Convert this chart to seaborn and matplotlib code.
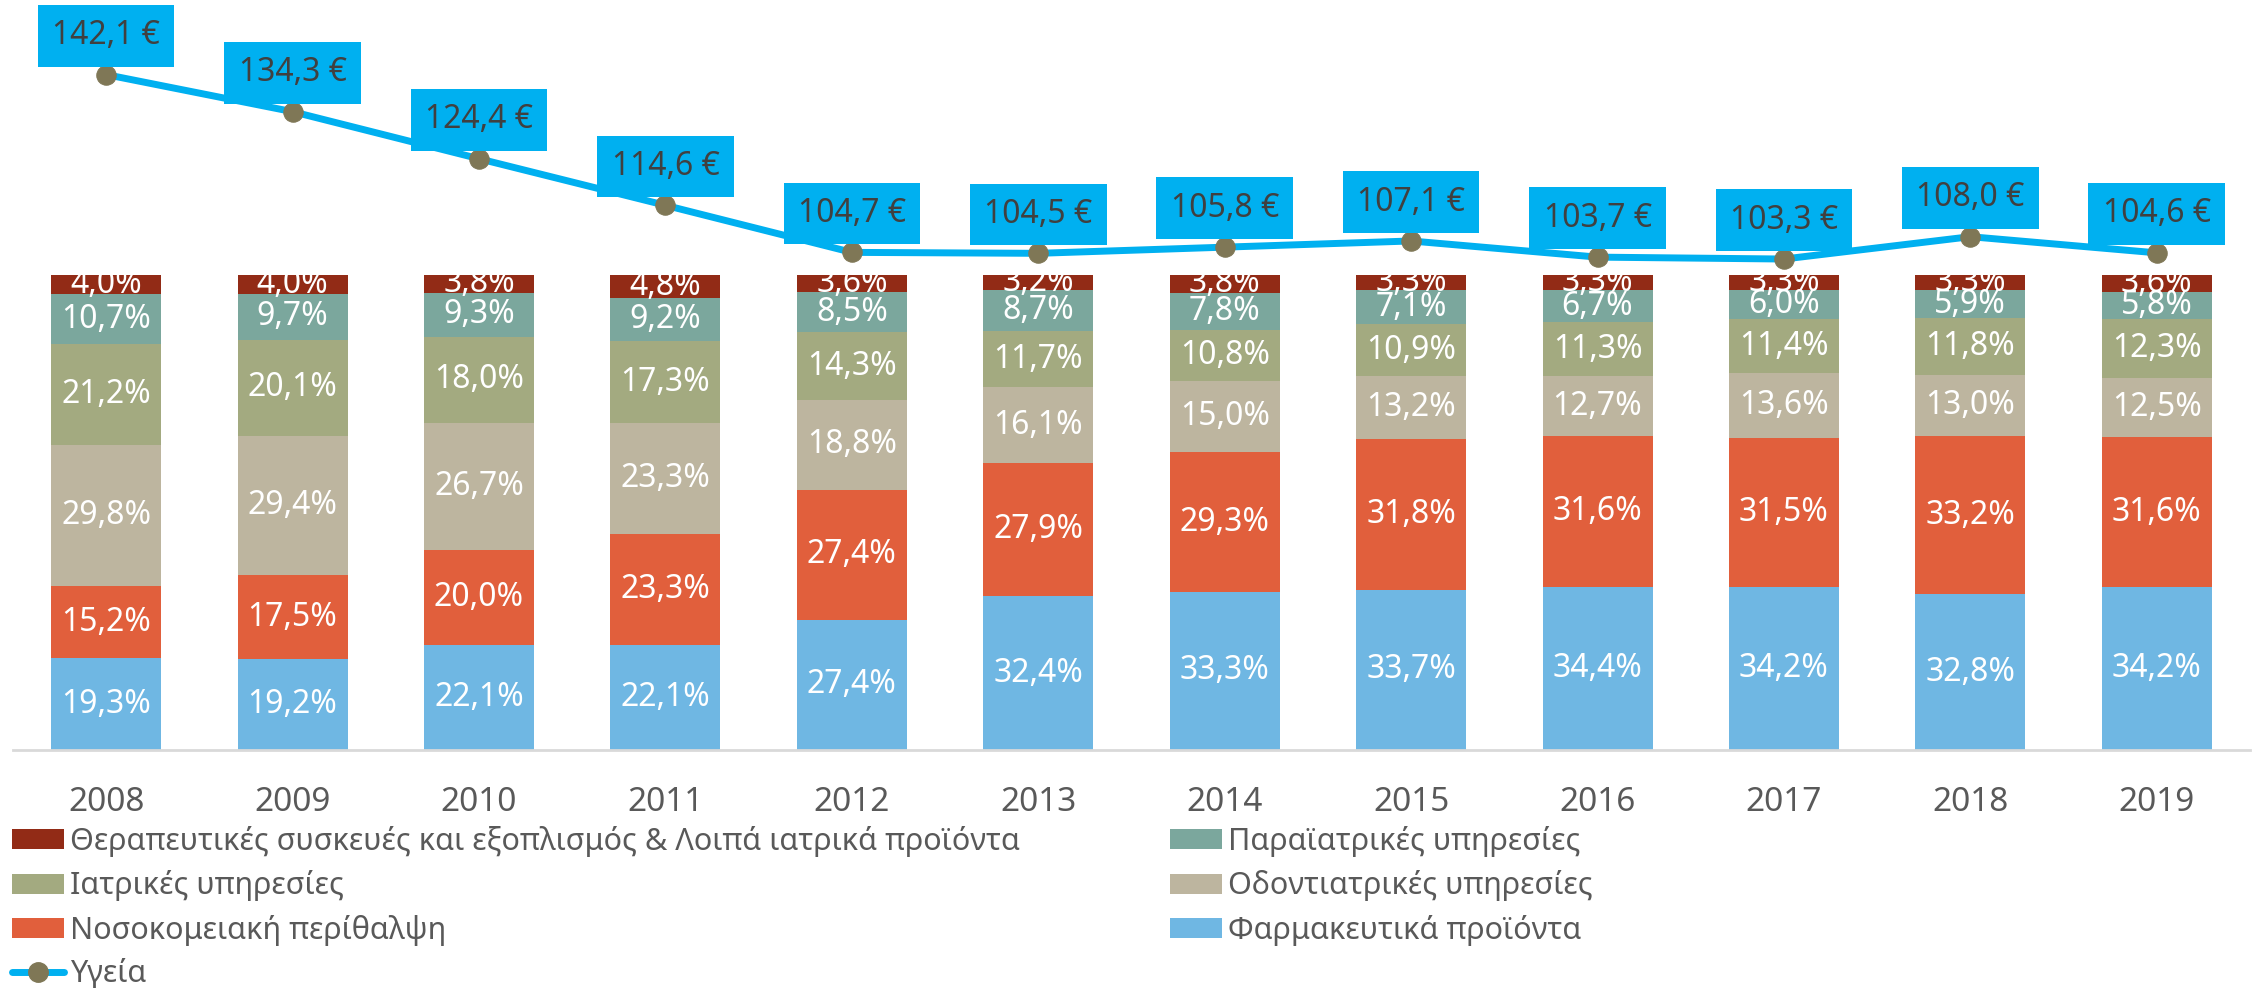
"""Health expenditure structure per year (100% stacked bars) with per-capita line."""

import matplotlib

matplotlib.use("Agg")

import matplotlib.pyplot as plt
import numpy as np
import pandas as pd
import seaborn as sns
from matplotlib.lines import Line2D
from matplotlib.patches import Patch

years = ["2008", "2009", "2010", "2011", "2012", "2013",
         "2014", "2015", "2016", "2017", "2018", "2019"]

# shares (%) bottom -> top
farmakeftika = [19.3, 19.2, 22.1, 22.1, 27.4, 32.4, 33.3, 33.7, 34.4, 34.2, 32.8, 34.2]
nosokomeiaki = [15.2, 17.5, 20.0, 23.3, 27.4, 27.9, 29.3, 31.8, 31.6, 31.5, 33.2, 31.6]
odontiatrikes = [29.8, 29.4, 26.7, 23.3, 18.8, 16.1, 15.0, 13.2, 12.7, 13.6, 13.0, 12.5]
iatrikes = [21.2, 20.1, 18.0, 17.3, 14.3, 11.7, 10.8, 10.9, 11.3, 11.4, 11.8, 12.3]
paraiatrikes = [10.7, 9.7, 9.3, 9.2, 8.5, 8.7, 7.8, 7.1, 6.7, 6.0, 5.9, 5.8]
therapeftikes = [4.0, 4.0, 3.8, 4.8, 3.6, 3.2, 3.8, 3.3, 3.3, 3.3, 3.3, 3.6]

ygeia = [142.1, 134.3, 124.4, 114.6, 104.7, 104.5, 105.8, 107.1, 103.7, 103.3, 108.0, 104.6]

series = [
    ("Φαρμακευτικά προϊόντα", farmakeftika, "#6FB7E3"),
    ("Νοσοκομειακή περίθαλψη", nosokomeiaki, "#E15F3C"),
    ("Οδοντιατρικές υπηρεσίες", odontiatrikes, "#BDB59F"),
    ("Ιατρικές υπηρεσίες", iatrikes, "#A3AA80"),
    ("Παραϊατρικές υπηρεσίες", paraiatrikes, "#7BA79D"),
    ("Θεραπευτικές συσκευές και εξοπλισμός & Λοιπά ιατρικά προϊόντα", therapeftikes, "#922B16"),
]

LINE_COLOR = "#00B0F0"
MARKER_COLOR = "#7F7756"
TEXT_GRAY = "#595959"

sns.set_theme(style="white")
plt.rcParams["font.family"] = ["Noto Sans", "DejaVu Sans"]

fig = plt.figure(figsize=(22.57, 9.89), dpi=100)
ax = fig.add_axes([13 / 2257, 1 - 750 / 989, (2250 - 13) / 2257, 750 / 989])

# 100% stacked: normalise each year to its total
values = np.array([s[1] for s in series])
shares = values / values.sum(axis=0) * 100
cum = np.cumsum(shares, axis=0)

# draw tallest cumulative first so lower layers sit on top
for i in range(len(series) - 1, -1, -1):
    df = pd.DataFrame({"year": years, "top": cum[i]})
    sns.barplot(data=df, x="year", y="top", color=series[i][2], saturation=1,
                width=0.59, ax=ax, edgecolor="none", linewidth=0)

for i, (name, vals, col) in enumerate(series):
    bottoms = cum[i] - shares[i]
    for j, v in enumerate(vals):
        ax.text(j, bottoms[j] + shares[i][j] / 2, f"{v:.1f}%".replace(".", ","),
                ha="center", va="center", color="white", fontsize=23)

# per-capita line
line_df = pd.DataFrame({"x": np.arange(len(years)), "y": ygeia})
sns.lineplot(data=line_df, x="x", y="y", color=LINE_COLOR, linewidth=5,
             marker="o", markersize=14, markerfacecolor=MARKER_COLOR,
             markeredgecolor=MARKER_COLOR, ax=ax, zorder=5)
for j, v in enumerate(ygeia):
    ax.annotate(f"{v:.1f} €".replace(".", ","), (j, v), xytext=(0, 28),
                textcoords="offset points", ha="center", va="center",
                fontsize=23, color="#404040", zorder=6,
                bbox=dict(boxstyle="square,pad=0.45", fc=LINE_COLOR, ec="none"))

ax.set_xlim(-0.5, len(years) - 0.5)
ax.set_ylim(0, 157.8)
ax.set_xlabel("")
ax.set_ylabel("")
ax.set_yticks([])
ax.tick_params(axis="x", length=0, pad=26, labelsize=24, labelcolor=TEXT_GRAY)
for side in ["top", "left", "right"]:
    ax.spines[side].set_visible(False)
ax.spines["bottom"].set_color("#D9D9D9")
ax.spines["bottom"].set_linewidth(2)

# legend, two columns built separately
by_name = {s[0]: Patch(facecolor=s[2], edgecolor="none") for s in series}
left_names = [series[5][0], series[3][0], series[1][0]]
right_names = [series[4][0], series[2][0], series[0][0]]
line_handle = Line2D([], [], color=LINE_COLOR, linewidth=5, marker="o",
                     markersize=14, markerfacecolor=MARKER_COLOR,
                     markeredgecolor=MARKER_COLOR)

common = dict(loc="upper left", frameon=False, fontsize=22, borderpad=0,
              borderaxespad=0, handlelength=1.7, handleheight=0.65,
              handletextpad=0.2, labelspacing=0.44, labelcolor=TEXT_GRAY)
fig.legend([by_name[n] for n in left_names] + [line_handle],
           left_names + ["Υγεία"], bbox_to_anchor=(12 / 2257, 1 - 826 / 989),
           **common)
fig.legend([by_name[n] for n in right_names], right_names,
           bbox_to_anchor=(1170 / 2257, 1 - 826 / 989), **common)

fig.savefig("out.png", dpi=100)
